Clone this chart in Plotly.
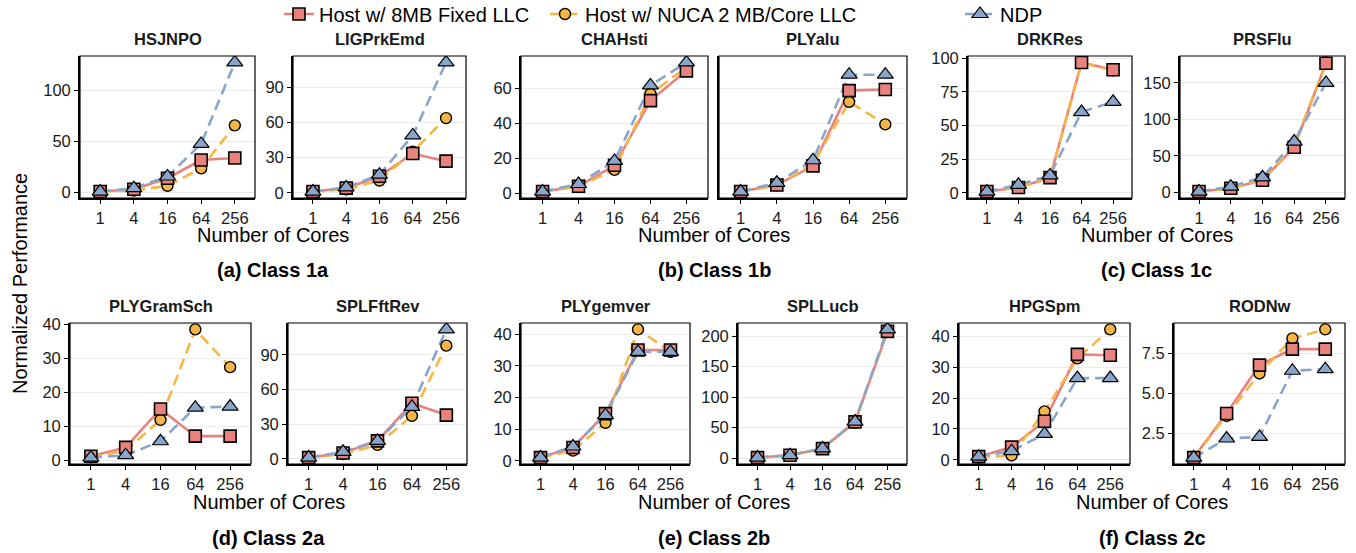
import plotly.graph_objects as go

# ---------------- data ----------------
cores = ["1", "4", "16", "64", "256"]

series_names = ["Host w/ 8MB Fixed LLC", "Host w/ NUCA 2 MB/Core LLC", "NDP"]

hsjnpo_fixed = [1, 3.3, 14, 31.8, 33.8]
hsjnpo_nuca = [1, 2, 6.6, 23.6, 65.6]
hsjnpo_ndp = [1, 4.3, 15.7, 47.5, 127]

ligprkemd_fixed = [1, 3.9, 14, 33.4, 26.9]
ligprkemd_nuca = [1, 2.8, 10.4, 35, 63.6]
ligprkemd_ndp = [1, 4.5, 15.4, 48.8, 111]

chahsti_fixed = [1, 4, 16, 53, 70]
chahsti_nuca = [1, 4, 13.4, 56.8, 72]
chahsti_ndp = [1, 5.3, 18.5, 61.7, 74.8]

plyalu_fixed = [1, 4.7, 15.7, 58.7, 59.3]
plyalu_nuca = [1, 4.5, 17, 52.3, 39.4]
plyalu_ndp = [1, 6, 18.9, 67.8, 67.8]

drkres_fixed = [1, 4, 11.3, 96.8, 91.4]
drkres_nuca = [1, 4, 11, 96.5, 91]
drkres_ndp = [1, 6, 13, 60, 67.6]

prsflu_fixed = [1, 5.5, 16.4, 61.8, 177]
prsflu_nuca = [1, 5, 17, 64, 178]
prsflu_ndp = [1, 7.7, 20.5, 69.5, 150]

plygramsch_fixed = [1.3, 3.9, 15.2, 7.2, 7.2]
plygramsch_nuca = [1, 3, 12, 38.6, 27.5]
plygramsch_ndp = [0.9, 1.6, 5.7, 15.6, 15.9]

splfftrev_fixed = [1, 5, 15.5, 48, 37.8]
splfftrev_nuca = [1, 4, 12, 37.2, 98]
splfftrev_ndp = [1, 6, 15.5, 45, 112]

plygemver_fixed = [1, 4.2, 14.9, 35, 35]
plygemver_nuca = [1, 3.2, 12, 41.5, 34.4]
plygemver_ndp = [1, 4.5, 14.4, 34.4, 34.4]

spllucb_fixed = [1, 4.9, 15.7, 59.5, 207.6]
spllucb_nuca = [1, 4.6, 15.5, 58.5, 209]
spllucb_ndp = [1, 5, 16, 60, 210.8]

hpgspm_fixed = [1, 4.1, 12.5, 34.2, 33.9]
hpgspm_nuca = [0.7, 1.4, 15.7, 32.9, 42.3]
hpgspm_ndp = [1, 2.8, 8.4, 26.5, 26.5]

rodnw_fixed = [1, 3.75, 6.77, 7.77, 7.77]
rodnw_nuca = [1, 3.6, 6.25, 8.44, 9.0]
rodnw_ndp = [1, 2.19, 2.29, 6.42, 6.52]

panel_titles = ["HSJNPO", "LIGPrkEmd", "CHAHsti", "PLYalu", "DRKRes", "PRSFlu",
                "PLYGramSch", "SPLFftRev", "PLYgemver", "SPLLucb", "HPGSpm", "RODNw"]
panel_data = [
    (hsjnpo_fixed, hsjnpo_nuca, hsjnpo_ndp),
    (ligprkemd_fixed, ligprkemd_nuca, ligprkemd_ndp),
    (chahsti_fixed, chahsti_nuca, chahsti_ndp),
    (plyalu_fixed, plyalu_nuca, plyalu_ndp),
    (drkres_fixed, drkres_nuca, drkres_ndp),
    (prsflu_fixed, prsflu_nuca, prsflu_ndp),
    (plygramsch_fixed, plygramsch_nuca, plygramsch_ndp),
    (splfftrev_fixed, splfftrev_nuca, splfftrev_ndp),
    (plygemver_fixed, plygemver_nuca, plygemver_ndp),
    (spllucb_fixed, spllucb_nuca, spllucb_ndp),
    (hpgspm_fixed, hpgspm_nuca, hpgspm_ndp),
    (rodnw_fixed, rodnw_nuca, rodnw_ndp),
]
y_dticks = [50, 30, 20, 20, 25, 50, 10, 30, 10, 50, 10, 2.5]
class_labels = ["(a) Class 1a", "(b) Class 1b", "(c) Class 1c",
                "(d) Class 2a", "(e) Class 2b", "(f) Class 2c"]

# ---------------- layout / style ----------------
W, H = 1356, 553
FONT = "Liberation Sans, Arial, sans-serif"
RED = "#E7827D"
ORANGE = "#F6B646"
BLUE = "#8AA5CC"

top_row = (56, 198)
bot_row = (323, 464)
xboxes = [(80, 255), (293, 466), (521, 708), (719, 907), (968, 1132), (1180, 1345),
          (70, 251), (288, 467), (521, 690), (738, 907), (959, 1130), (1174, 1345)]

fig = go.Figure()


def ax_names(i):
    s = "" if i == 0 else str(i + 1)
    return "x" + s, "y" + s, "xaxis" + s, "yaxis" + s


ranges = []
for i, d in enumerate(panel_data):
    vals = [v for s in d for v in s]
    ranges.append((min(vals), max(vals)))
lo = min(ranges[2][0], ranges[3][0]); hi = max(ranges[2][1], ranges[3][1])
ranges[2] = ranges[3] = (lo, hi)

for i, (fixed, nuca, ndp) in enumerate(panel_data):
    xa, ya, xk, yk = ax_names(i)
    fig.add_trace(go.Scatter(x=cores, y=fixed, mode="lines", xaxis=xa, yaxis=ya,
                             line=dict(color=RED, width=2.6), showlegend=False, hoverinfo="skip"))
    fig.add_trace(go.Scatter(x=cores, y=nuca, mode="lines", xaxis=xa, yaxis=ya,
                             line=dict(color=ORANGE, width=2.6, dash="11px,6px"), showlegend=False, hoverinfo="skip"))
    fig.add_trace(go.Scatter(x=cores, y=ndp, mode="lines", xaxis=xa, yaxis=ya,
                             line=dict(color=BLUE, width=2.6, dash="11px,6px"), showlegend=False, hoverinfo="skip"))
    fig.add_trace(go.Scatter(x=cores, y=nuca, mode="markers", xaxis=xa, yaxis=ya,
                             marker=dict(symbol="circle", size=11, color=ORANGE, line=dict(color="black", width=1.4)),
                             showlegend=False))
    fig.add_trace(go.Scatter(x=cores, y=fixed, mode="markers", xaxis=xa, yaxis=ya,
                             marker=dict(symbol="square", size=12, color=RED, line=dict(color="black", width=1.6)),
                             showlegend=False))
    fig.add_trace(go.Scatter(x=cores, y=ndp, mode="markers", xaxis=xa, yaxis=ya,
                             marker=dict(symbol="triangle-up", size=14, color=BLUE, line=dict(color="black", width=1.2)),
                             showlegend=False))

    x0, x1 = xboxes[i]
    yt, yb = top_row if i < 6 else bot_row
    lo, hi = ranges[i]
    pad = 0.05 * (hi - lo)
    fig.layout[xk] = dict(
        domain=[x0 / W, x1 / W], anchor=ya, type="category",
        range=[-0.6, 4.6], showgrid=False, zeroline=False,
        showline=True, linecolor="black", linewidth=1.8,
        ticks="outside", ticklen=4, tickwidth=1, tickcolor="black",
        tickfont=dict(family=FONT, size=16.5, color="#1a1a1a"), fixedrange=True, automargin=False,
    )
    ydict = dict(
        domain=[1 - yb / H, 1 - yt / H], anchor=xa,
        range=[lo - pad, hi + pad], tick0=0, dtick=y_dticks[i],
        showgrid=True, gridcolor="#ebebeb", gridwidth=1, zeroline=False,
        showline=True, linecolor="black", linewidth=1.8,
        ticks="outside", ticklen=4, tickwidth=1, tickcolor="black",
        tickfont=dict(family=FONT, size=16.5, color="#1a1a1a"), fixedrange=True, automargin=False,
    )
    if i == 11:
        ydict["tickformat"] = ".1f"
    if i == 3:
        ydict["showticklabels"] = False
        ydict["ticks"] = ""
    fig.layout[yk] = ydict
    fig.add_shape(type="rect", xref=xa + " domain", yref=ya + " domain",
                  x0=0, x1=1, y0=0, y1=1, line=dict(color="black", width=1.2), layer="above")
    fig.add_annotation(text="<b>" + panel_titles[i] + "</b>", xref="paper", yref="paper",
                       x=(x0 + x1) / 2 / W, y=1 - (39 if i < 6 else 306) / H,
                       showarrow=False, font=dict(family=FONT, size=16.5, color="#1a1a1a"),
                       xanchor="center", yanchor="middle")

for c in range(6):
    a, b = 2 * c, 2 * c + 1
    cx = (xboxes[a][0] + xboxes[b][1]) / 2 / W
    row_top = c < 3
    fig.add_annotation(text="Number of Cores", xref="paper", yref="paper", x=cx,
                       y=1 - (235 if row_top else 502) / H, showarrow=False,
                       font=dict(family=FONT, size=20, color="black"), xanchor="center", yanchor="middle")
    fig.add_annotation(text="<b>" + class_labels[c] + "</b>", xref="paper", yref="paper", x=cx,
                       y=1 - (270 if row_top else 538) / H, showarrow=False,
                       font=dict(family=FONT, size=20, color="black"), xanchor="center", yanchor="middle")

fig.add_annotation(text="Normalized Performance", xref="paper", yref="paper", x=20 / W, y=1 - 284 / H,
                   textangle=-90, showarrow=False, font=dict(family=FONT, size=20, color="black"),
                   xanchor="center", yanchor="middle")

leg_styles = [
    dict(color=RED, symbol="square", size=12, dash="solid", lw=1.6),
    dict(color=ORANGE, symbol="circle", size=11, dash="dash", lw=1.4),
    dict(color=BLUE, symbol="triangle-up", size=14, dash="dash", lw=1.2),
]
leg_x = [279, 545, 960]
for k, name in enumerate(series_names):
    st = leg_styles[k]
    lname = "legend" if k == 0 else "legend" + str(k + 1)
    fig.add_trace(go.Scatter(x=[None], y=[None], mode="lines+markers", name=name,
                             line=dict(color=st["color"], width=2.6, dash=st["dash"]),
                             marker=dict(symbol=st["symbol"], size=st["size"], color=st["color"],
                                         line=dict(color="black", width=st["lw"])),
                             legend=lname, showlegend=True))
    fig.layout[lname] = dict(x=leg_x[k] / W, y=1 - 14 / H, xanchor="left", yanchor="middle",
                             orientation="h", bgcolor="rgba(0,0,0,0)", itemwidth=30,
                             font=dict(family=FONT, size=20, color="black"))

fig.update_layout(width=W, height=H, margin=dict(l=0, r=0, t=0, b=0, autoexpand=False),
                  paper_bgcolor="white", plot_bgcolor="white", showlegend=True)

fig.write_html("out.html", config={"displayModeBar": False},
               post_script="document.body.style.margin='0';document.body.style.overflow='hidden';")
